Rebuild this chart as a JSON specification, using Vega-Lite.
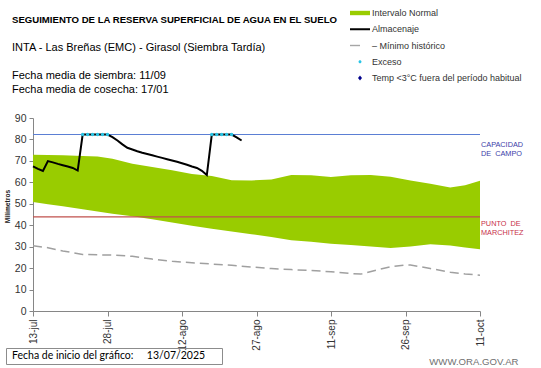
{
  "$schema": "https://vega.github.io/schema/vega-lite/v6.json",
  "autosize": "none",
  "width": 447,
  "height": 193,
  "padding": {"left": 33, "top": 118, "right": 61, "bottom": 57},
  "background": "white",
  "config": {
    "view": {"stroke": null},
    "axis": {"domainColor": "#868686", "tickColor": "#868686", "labelColor": "#333333", "labelFont": "Liberation Sans", "titleFont": "Liberation Sans", "grid": false},
    "axisY": {"tickCount": 10, "labelOverlap": false},
    "legend": {"labelFont": "Liberation Sans"}
  },
  "title": {
    "text": "SEGUIMIENTO DE LA RESERVA SUPERFICIAL DE AGUA EN EL SUELO",
    "subtitle": ["INTA - Las Breñas (EMC) - Girasol (Siembra Tardía)", "\u200b", "Fecha media de siembra: 11/09", "Fecha media de cosecha: 17/01"],
    "anchor": "start",
    "frame": "group",
    "dx": -21,
    "dy": 115,
    "offset": 23,
    "font": "Liberation Sans",
    "fontSize": 9.6,
    "fontWeight": "bold",
    "color": "#000000",
    "subtitleFont": "Liberation Sans",
    "subtitleFontSize": 11,
    "subtitleColor": "#000000",
    "subtitleLineHeight": 14,
    "subtitlePadding": 17
  },
  "datasets": {
    "banda": [
      {"fecha": "2025-07-13T00:00:00", "sup": 72.9, "inf": 50.8},
      {"fecha": "2025-07-16T00:00:00", "sup": 72.8, "inf": 49.8},
      {"fecha": "2025-07-19T00:00:00", "sup": 72.6, "inf": 48.8},
      {"fecha": "2025-07-23T00:00:00", "sup": 72.3, "inf": 47.4},
      {"fecha": "2025-07-26T00:00:00", "sup": 72.1, "inf": 46.4},
      {"fecha": "2025-07-29T00:00:00", "sup": 71.0, "inf": 45.4},
      {"fecha": "2025-08-02T00:00:00", "sup": 68.7, "inf": 44.2},
      {"fecha": "2025-08-06T00:00:00", "sup": 67.2, "inf": 42.8},
      {"fecha": "2025-08-10T00:00:00", "sup": 65.6, "inf": 41.3},
      {"fecha": "2025-08-14T00:00:00", "sup": 63.9, "inf": 39.8},
      {"fecha": "2025-08-18T00:00:00", "sup": 62.9, "inf": 38.3},
      {"fecha": "2025-08-22T00:00:00", "sup": 61.0, "inf": 37.1},
      {"fecha": "2025-08-26T00:00:00", "sup": 60.9, "inf": 35.8},
      {"fecha": "2025-08-30T00:00:00", "sup": 61.3, "inf": 34.5},
      {"fecha": "2025-09-03T00:00:00", "sup": 63.4, "inf": 33.0},
      {"fecha": "2025-09-07T00:00:00", "sup": 63.3, "inf": 32.3},
      {"fecha": "2025-09-11T00:00:00", "sup": 62.5, "inf": 31.4},
      {"fecha": "2025-09-15T00:00:00", "sup": 63.3, "inf": 30.8},
      {"fecha": "2025-09-19T00:00:00", "sup": 63.4, "inf": 30.1},
      {"fecha": "2025-09-23T00:00:00", "sup": 62.6, "inf": 29.4},
      {"fecha": "2025-09-27T00:00:00", "sup": 60.8, "inf": 30.1},
      {"fecha": "2025-10-01T00:00:00", "sup": 59.3, "inf": 31.1},
      {"fecha": "2025-10-05T00:00:00", "sup": 57.6, "inf": 30.6},
      {"fecha": "2025-10-08T00:00:00", "sup": 58.6, "inf": 29.6},
      {"fecha": "2025-10-11T00:00:00", "sup": 60.7, "inf": 28.8}
    ],
    "minimo": [
      {"fecha": "2025-07-13T00:00:00", "valor": 30.4},
      {"fecha": "2025-07-16T00:00:00", "valor": 29.5},
      {"fecha": "2025-07-19T00:00:00", "valor": 28.0},
      {"fecha": "2025-07-23T00:00:00", "valor": 26.4},
      {"fecha": "2025-07-26T00:00:00", "valor": 26.2},
      {"fecha": "2025-07-29T00:00:00", "valor": 26.1},
      {"fecha": "2025-08-02T00:00:00", "valor": 25.5},
      {"fecha": "2025-08-06T00:00:00", "valor": 24.2},
      {"fecha": "2025-08-10T00:00:00", "valor": 23.2},
      {"fecha": "2025-08-14T00:00:00", "valor": 22.5},
      {"fecha": "2025-08-18T00:00:00", "valor": 21.9},
      {"fecha": "2025-08-22T00:00:00", "valor": 21.3},
      {"fecha": "2025-08-26T00:00:00", "valor": 20.5},
      {"fecha": "2025-08-30T00:00:00", "valor": 19.8},
      {"fecha": "2025-09-03T00:00:00", "valor": 19.3},
      {"fecha": "2025-09-07T00:00:00", "valor": 18.9},
      {"fecha": "2025-09-11T00:00:00", "valor": 18.3},
      {"fecha": "2025-09-15T00:00:00", "valor": 17.5},
      {"fecha": "2025-09-17T00:00:00", "valor": 17.2},
      {"fecha": "2025-09-21T00:00:00", "valor": 19.6},
      {"fecha": "2025-09-23T00:00:00", "valor": 20.6},
      {"fecha": "2025-09-26T00:00:00", "valor": 21.5},
      {"fecha": "2025-09-27T00:00:00", "valor": 21.4},
      {"fecha": "2025-09-29T00:00:00", "valor": 20.7},
      {"fecha": "2025-10-01T00:00:00", "valor": 19.8},
      {"fecha": "2025-10-05T00:00:00", "valor": 18.1},
      {"fecha": "2025-10-08T00:00:00", "valor": 17.3},
      {"fecha": "2025-10-11T00:00:00", "valor": 16.7}
    ],
    "almacenaje": [
      {"fecha": "2025-07-13T00:00:00", "valor": 67.4},
      {"fecha": "2025-07-14T00:00:00", "valor": 66.3},
      {"fecha": "2025-07-15T00:00:00", "valor": 65.3},
      {"fecha": "2025-07-16T00:00:00", "valor": 69.9},
      {"fecha": "2025-07-17T00:00:00", "valor": 69.3},
      {"fecha": "2025-07-18T00:00:00", "valor": 68.6},
      {"fecha": "2025-07-19T00:00:00", "valor": 68.0},
      {"fecha": "2025-07-20T00:00:00", "valor": 67.4},
      {"fecha": "2025-07-21T00:00:00", "valor": 66.7},
      {"fecha": "2025-07-22T00:00:00", "valor": 65.5},
      {"fecha": "2025-07-23T00:00:00", "valor": 82.3},
      {"fecha": "2025-07-24T00:00:00", "valor": 82.3},
      {"fecha": "2025-07-25T00:00:00", "valor": 82.3},
      {"fecha": "2025-07-26T00:00:00", "valor": 82.3},
      {"fecha": "2025-07-27T00:00:00", "valor": 82.3},
      {"fecha": "2025-07-28T00:00:00", "valor": 82.3},
      {"fecha": "2025-07-29T00:00:00", "valor": 81.1},
      {"fecha": "2025-07-30T00:00:00", "valor": 79.5},
      {"fecha": "2025-07-31T00:00:00", "valor": 77.7},
      {"fecha": "2025-08-01T00:00:00", "valor": 76.1},
      {"fecha": "2025-08-02T00:00:00", "valor": 75.3},
      {"fecha": "2025-08-03T00:00:00", "valor": 74.5},
      {"fecha": "2025-08-04T00:00:00", "valor": 73.8},
      {"fecha": "2025-08-05T00:00:00", "valor": 73.2},
      {"fecha": "2025-08-06T00:00:00", "valor": 72.6},
      {"fecha": "2025-08-07T00:00:00", "valor": 72.0},
      {"fecha": "2025-08-08T00:00:00", "valor": 71.4},
      {"fecha": "2025-08-09T00:00:00", "valor": 70.8},
      {"fecha": "2025-08-10T00:00:00", "valor": 70.2},
      {"fecha": "2025-08-11T00:00:00", "valor": 69.6},
      {"fecha": "2025-08-12T00:00:00", "valor": 68.9},
      {"fecha": "2025-08-13T00:00:00", "valor": 68.2},
      {"fecha": "2025-08-14T00:00:00", "valor": 67.4},
      {"fecha": "2025-08-15T00:00:00", "valor": 66.7},
      {"fecha": "2025-08-16T00:00:00", "valor": 65.4},
      {"fecha": "2025-08-17T00:00:00", "valor": 63.4},
      {"fecha": "2025-08-18T00:00:00", "valor": 82.3},
      {"fecha": "2025-08-19T00:00:00", "valor": 82.3},
      {"fecha": "2025-08-20T00:00:00", "valor": 82.3},
      {"fecha": "2025-08-21T00:00:00", "valor": 82.3},
      {"fecha": "2025-08-22T00:00:00", "valor": 82.3},
      {"fecha": "2025-08-23T00:00:00", "valor": 81.0},
      {"fecha": "2025-08-24T00:00:00", "valor": 79.5}
    ],
    "exceso": [
      {"fecha": "2025-07-23T00:00:00", "valor": 82.3},
      {"fecha": "2025-07-24T00:00:00", "valor": 82.3},
      {"fecha": "2025-07-25T00:00:00", "valor": 82.3},
      {"fecha": "2025-07-26T00:00:00", "valor": 82.3},
      {"fecha": "2025-07-27T00:00:00", "valor": 82.3},
      {"fecha": "2025-07-28T00:00:00", "valor": 82.3},
      {"fecha": "2025-08-18T00:00:00", "valor": 82.3},
      {"fecha": "2025-08-19T00:00:00", "valor": 82.3},
      {"fecha": "2025-08-20T00:00:00", "valor": 82.3},
      {"fecha": "2025-08-21T00:00:00", "valor": 82.3},
      {"fecha": "2025-08-22T00:00:00", "valor": 82.3}
    ],
    "leyenda": [
      {"serie": "Intervalo Normal"},
      {"serie": "Almacenaje"},
      {"serie": "– Mínimo histórico"},
      {"serie": "Exceso"},
      {"serie": "Temp <3°C fuera del período habitual"}
    ],
    "nota": [
      {"nota": "Fecha de inicio del gráfico:\u00a0\u00a0\u00a0\u00a0\u00a013/07/2025\u00a0\u00a0\u00a0\u00a0\u00a0\u200b"}
    ]
  },
  "layer": [
    {
      "data": {"name": "banda"},
      "mark": {"type": "area", "color": "#99cc00", "opacity": 1},
      "encoding": {
        "x": {
          "field": "fecha", "type": "temporal",
          "scale": {"domain": [{"year": 2025, "month": 7, "date": 13}, {"year": 2025, "month": 10, "date": 11}], "nice": false},
          "axis": {
            "values": [
              {"year": 2025, "month": 7, "date": 13},
              {"year": 2025, "month": 7, "date": 28},
              {"year": 2025, "month": 8, "date": 12},
              {"year": 2025, "month": 8, "date": 27},
              {"year": 2025, "month": 9, "date": 11},
              {"year": 2025, "month": 9, "date": 26},
              {"year": 2025, "month": 10, "date": 11}
            ],
            "labelExpr": "timeFormat(datum.value, '%d') + '-' + ['ene','feb','mar','abr','may','jun','jul','ago','sep','oct','nov','dic'][month(datum.value)]",
            "labelAngle": -90,
            "labelAlign": "right",
            "labelBaseline": "middle",
            "labelFontSize": 10,
            "labelPadding": 3,
            "tickSize": 5,
            "labelOverlap": false,
            "title": "WWW.ORA.GOV.AR",
            "titleX": 485,
            "titleY": 50,
            "titleAlign": "right",
            "titleBaseline": "middle",
            "titleFontSize": 9.6,
            "titleFontWeight": "normal",
            "titleColor": "#707070"
          }
        },
        "y": {
          "field": "sup", "type": "quantitative",
          "scale": {"domain": [0, 90], "nice": false},
          "axis": {
            "values": [0, 10, 20, 30, 40, 50, 60, 70, 80, 90],
            "tickCount": 10,
            "labelOverlap": false,
            "labelFontSize": 10.5,
            "labelPadding": 3,
            "tickSize": 4,
            "title": "Milímetros",
            "titleFontSize": 6.7,
            "titleFontWeight": "bold",
            "titleColor": "#222222",
            "titleAngle": 270,
            "titleX": -26,
            "titleY": 88,
            "titleAlign": "center",
            "titleBaseline": "middle"
          }
        },
        "y2": {"field": "inf"}
      }
    },
    {
      "data": {"values": [{"umbral": "PUNTO DE MARCHITEZ", "valor": 43.9}]},
      "mark": {"type": "rule", "color": "#c0504d", "strokeWidth": 1.3},
      "encoding": {"y": {"field": "valor", "type": "quantitative"}}
    },
    {
      "data": {"values": [{"umbral": "CAPACIDAD DE CAMPO", "valor": 82.3}]},
      "mark": {"type": "rule", "color": "#5b7fd4", "strokeWidth": 1},
      "encoding": {"y": {"field": "valor", "type": "quantitative"}}
    },
    {
      "data": {"name": "minimo"},
      "mark": {"type": "line", "color": "#a0a0a0", "strokeWidth": 1.5, "strokeDash": [9, 5]},
      "encoding": {
        "x": {"field": "fecha", "type": "temporal"},
        "y": {"field": "valor", "type": "quantitative"}
      }
    },
    {
      "data": {"name": "almacenaje"},
      "mark": {"type": "line", "color": "#000000", "strokeWidth": 2},
      "encoding": {
        "x": {"field": "fecha", "type": "temporal"},
        "y": {"field": "valor", "type": "quantitative"}
      }
    },
    {
      "data": {"name": "exceso"},
      "mark": {"type": "point", "filled": true, "color": "#29c5e6", "size": 12, "opacity": 1},
      "encoding": {
        "x": {"field": "fecha", "type": "temporal"},
        "y": {"field": "valor", "type": "quantitative"}
      }
    },
    {
      "data": {"values": [{"etiqueta": "CAPACIDAD\nDE\u00a0\u00a0CAMPO", "valor": 82.3}]},
      "mark": {"type": "text", "align": "left", "baseline": "top", "dx": 1, "dy": 6.5, "lineBreak": "\n", "lineHeight": 9.3, "font": "Liberation Sans", "fontSize": 7.3, "color": "#3d3da8"},
      "encoding": {
        "x": {"datum": {"year": 2025, "month": 10, "date": 11}, "type": "temporal"},
        "y": {"field": "valor", "type": "quantitative"},
        "text": {"field": "etiqueta"}
      }
    },
    {
      "data": {"values": [{"etiqueta": "PUNTO\u00a0\u00a0DE\nMARCHITEZ", "valor": 43.9}]},
      "mark": {"type": "text", "align": "left", "baseline": "top", "dx": 1, "dy": 3.3, "lineBreak": "\n", "lineHeight": 9.3, "font": "Liberation Sans", "fontSize": 7.3, "color": "#c8304a"},
      "encoding": {
        "x": {"datum": {"year": 2025, "month": 10, "date": 11}, "type": "temporal"},
        "y": {"field": "valor", "type": "quantitative"},
        "text": {"field": "etiqueta"}
      }
    },
    {
      "data": {"name": "leyenda"},
      "transform": [{"filter": "datum.serie == null"}],
      "mark": {"type": "point", "filled": true},
      "encoding": {
        "color": {
          "field": "serie", "type": "nominal",
          "scale": {
            "domain": ["Intervalo Normal", "Almacenaje", "– Mínimo histórico", "Exceso", "Temp <3°C fuera del período habitual"],
            "range": ["#99cc00", "#000000", "#a6a6a6", "#29c5e6", "#00008b"]
          },
          "legend": {
            "orient": "none", "legendX": 317, "legendY": -115, "padding": 0,
            "title": null, "symbolSize": 400, "symbolStrokeWidth": 0,
            "labelFontSize": 9, "labelColor": "#333333", "labelOffset": 2,
            "rowPadding": 1.25, "labelLimit": 300, "symbolOpacity": 1
          }
        },
        "shape": {
          "field": "serie", "type": "nominal",
          "scale": {
            "domain": ["Intervalo Normal", "Almacenaje", "– Mínimo histórico", "Exceso", "Temp <3°C fuera del período habitual"],
            "range": [
              "M-1,-0.22H1V0.22H-1Z",
              "M-1,-0.1H1V0.1H-1Z",
              "M-1,-0.07H0V0.07H-1Z",
              "M-0.15,0A0.15,0.15,0,1,0,0.15,0A0.15,0.15,0,1,0,-0.15,0Z",
              "M0,-0.25L0.2,0L0,0.25L-0.2,0Z"
            ]
          },
          "legend": {
            "orient": "none", "legendX": 317, "legendY": -115, "padding": 0,
            "title": null, "symbolSize": 400, "symbolStrokeWidth": 0,
            "labelFontSize": 9, "labelColor": "#333333", "labelOffset": 2,
            "rowPadding": 1.25, "labelLimit": 300, "symbolOpacity": 1
          }
        }
      }
    },
    {
      "data": {"name": "nota"},
      "transform": [{"filter": "datum.nota == null"}],
      "mark": {"type": "point"},
      "encoding": {
        "strokeDash": {
          "field": "nota", "type": "nominal",
          "scale": {"domain": ["Fecha de inicio del gráfico:\u00a0\u00a0\u00a0\u00a0\u00a013/07/2025\u00a0\u00a0\u00a0\u00a0\u00a0\u200b"], "range": [[1, 0]]},
          "legend": {
            "orient": "none", "legendX": -27, "legendY": 230, "padding": 2.5,
            "title": null, "symbolSize": 1, "symbolOpacity": 0, "symbolStrokeWidth": 0,
            "labelOffset": -7, "labelFont": "Lato", "labelFontSize": 10.5, "labelColor": "#000000",
            "labelLimit": 400, "strokeColor": "#8c8c8c"
          }
        }
      }
    }
  ]
}
